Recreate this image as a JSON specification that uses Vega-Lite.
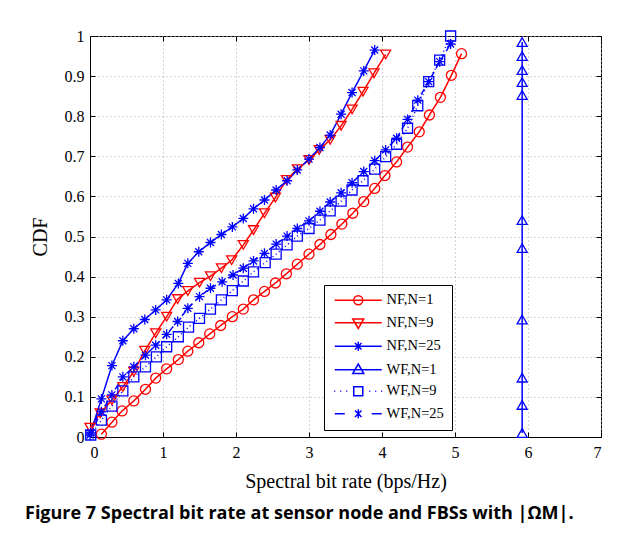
{
  "$schema": "https://vega.github.io/schema/vega-lite/v6.json",
  "width": 511,
  "height": 401,
  "autosize": {"type": "none"},
  "padding": {"left": 90, "top": 36, "right": 25, "bottom": 102},
  "background": "white",
  "config": {
    "view": {"stroke": "black", "strokeWidth": 1},
    "axis": {
      "labelFont": "Liberation Serif", "labelFontSize": 16, "labelColor": "black",
      "titleFont": "Liberation Serif", "titleFontSize": 20, "titleFontWeight": "normal", "titleColor": "black",
      "domainColor": "black", "tickColor": "black", "tickSize": -5,
      "gridColor": "#a8a8a8", "gridDash": [1, 3], "gridOpacity": 1, "gridWidth": 1
    }
  },
  "title": {
    "text": "Figure 7 Spectral bit rate at sensor node and FBSs with |ΩM|.",
    "orient": "bottom", "anchor": "start", "frame": "group",
    "font": "Open Sans", "fontSize": 18, "fontWeight": "bold", "color": "black",
    "dx": -65, "offset": 14
  },
  "datasets": {
    "cdf": [
      {"s": "NF,N=1", "x": 0.156, "y": 0.007}, {"s": "NF,N=1", "x": 0.30, "y": 0.037}, {"s": "NF,N=1", "x": 0.44, "y": 0.065}, {"s": "NF,N=1", "x": 0.60, "y": 0.09}, {"s": "NF,N=1", "x": 0.76, "y": 0.119}, {"s": "NF,N=1", "x": 0.90, "y": 0.147}, {"s": "NF,N=1", "x": 1.05, "y": 0.17}, {"s": "NF,N=1", "x": 1.21, "y": 0.193}, {"s": "NF,N=1", "x": 1.34, "y": 0.214}, {"s": "NF,N=1", "x": 1.49, "y": 0.235}, {"s": "NF,N=1", "x": 1.64, "y": 0.257}, {"s": "NF,N=1", "x": 1.79, "y": 0.278}, {"s": "NF,N=1", "x": 1.95, "y": 0.30}, {"s": "NF,N=1", "x": 2.10, "y": 0.319}, {"s": "NF,N=1", "x": 2.24, "y": 0.342}, {"s": "NF,N=1", "x": 2.39, "y": 0.363}, {"s": "NF,N=1", "x": 2.54, "y": 0.384}, {"s": "NF,N=1", "x": 2.69, "y": 0.407}, {"s": "NF,N=1", "x": 2.84, "y": 0.431}, {"s": "NF,N=1", "x": 3.0, "y": 0.456}, {"s": "NF,N=1", "x": 3.15, "y": 0.48}, {"s": "NF,N=1", "x": 3.30, "y": 0.505}, {"s": "NF,N=1", "x": 3.45, "y": 0.531}, {"s": "NF,N=1", "x": 3.60, "y": 0.558}, {"s": "NF,N=1", "x": 3.75, "y": 0.587}, {"s": "NF,N=1", "x": 3.90, "y": 0.62}, {"s": "NF,N=1", "x": 4.04, "y": 0.652}, {"s": "NF,N=1", "x": 4.20, "y": 0.686}, {"s": "NF,N=1", "x": 4.35, "y": 0.723}, {"s": "NF,N=1", "x": 4.51, "y": 0.761}, {"s": "NF,N=1", "x": 4.65, "y": 0.803}, {"s": "NF,N=1", "x": 4.80, "y": 0.847}, {"s": "NF,N=1", "x": 4.95, "y": 0.902}, {"s": "NF,N=1", "x": 5.09, "y": 0.956},
      {"s": "NF,N=9", "x": 0.0, "y": 0.023}, {"s": "NF,N=9", "x": 0.14, "y": 0.059}, {"s": "NF,N=9", "x": 0.30, "y": 0.092}, {"s": "NF,N=9", "x": 0.45, "y": 0.125}, {"s": "NF,N=9", "x": 0.60, "y": 0.163}, {"s": "NF,N=9", "x": 0.75, "y": 0.215}, {"s": "NF,N=9", "x": 0.90, "y": 0.259}, {"s": "NF,N=9", "x": 1.05, "y": 0.30}, {"s": "NF,N=9", "x": 1.20, "y": 0.344}, {"s": "NF,N=9", "x": 1.34, "y": 0.364}, {"s": "NF,N=9", "x": 1.50, "y": 0.385}, {"s": "NF,N=9", "x": 1.65, "y": 0.401}, {"s": "NF,N=9", "x": 1.80, "y": 0.421}, {"s": "NF,N=9", "x": 1.94, "y": 0.441}, {"s": "NF,N=9", "x": 2.10, "y": 0.479}, {"s": "NF,N=9", "x": 2.24, "y": 0.516}, {"s": "NF,N=9", "x": 2.39, "y": 0.558}, {"s": "NF,N=9", "x": 2.54, "y": 0.597}, {"s": "NF,N=9", "x": 2.69, "y": 0.641}, {"s": "NF,N=9", "x": 2.84, "y": 0.668}, {"s": "NF,N=9", "x": 3.0, "y": 0.691}, {"s": "NF,N=9", "x": 3.14, "y": 0.716}, {"s": "NF,N=9", "x": 3.29, "y": 0.741}, {"s": "NF,N=9", "x": 3.44, "y": 0.776}, {"s": "NF,N=9", "x": 3.59, "y": 0.817}, {"s": "NF,N=9", "x": 3.74, "y": 0.861}, {"s": "NF,N=9", "x": 3.89, "y": 0.907}, {"s": "NF,N=9", "x": 4.05, "y": 0.954},
      {"s": "NF,N=25", "x": 0.0, "y": 0.005}, {"s": "NF,N=25", "x": 0.156, "y": 0.095}, {"s": "NF,N=25", "x": 0.30, "y": 0.178}, {"s": "NF,N=25", "x": 0.45, "y": 0.24}, {"s": "NF,N=25", "x": 0.60, "y": 0.27}, {"s": "NF,N=25", "x": 0.75, "y": 0.293}, {"s": "NF,N=25", "x": 0.90, "y": 0.317}, {"s": "NF,N=25", "x": 1.05, "y": 0.342}, {"s": "NF,N=25", "x": 1.21, "y": 0.383}, {"s": "NF,N=25", "x": 1.34, "y": 0.433}, {"s": "NF,N=25", "x": 1.49, "y": 0.462}, {"s": "NF,N=25", "x": 1.65, "y": 0.485}, {"s": "NF,N=25", "x": 1.80, "y": 0.505}, {"s": "NF,N=25", "x": 1.95, "y": 0.524}, {"s": "NF,N=25", "x": 2.10, "y": 0.545}, {"s": "NF,N=25", "x": 2.24, "y": 0.569}, {"s": "NF,N=25", "x": 2.39, "y": 0.591}, {"s": "NF,N=25", "x": 2.55, "y": 0.616}, {"s": "NF,N=25", "x": 2.70, "y": 0.639}, {"s": "NF,N=25", "x": 2.84, "y": 0.666}, {"s": "NF,N=25", "x": 3.0, "y": 0.693}, {"s": "NF,N=25", "x": 3.15, "y": 0.722}, {"s": "NF,N=25", "x": 3.29, "y": 0.753}, {"s": "NF,N=25", "x": 3.44, "y": 0.805}, {"s": "NF,N=25", "x": 3.59, "y": 0.859}, {"s": "NF,N=25", "x": 3.75, "y": 0.913}, {"s": "NF,N=25", "x": 3.90, "y": 0.965},
      {"s": "WF,N=1", "x": 5.92, "y": 0.01}, {"s": "WF,N=1", "x": 5.92, "y": 0.08}, {"s": "WF,N=1", "x": 5.92, "y": 0.148}, {"s": "WF,N=1", "x": 5.92, "y": 0.293}, {"s": "WF,N=1", "x": 5.92, "y": 0.471}, {"s": "WF,N=1", "x": 5.92, "y": 0.541}, {"s": "WF,N=1", "x": 5.92, "y": 0.853}, {"s": "WF,N=1", "x": 5.92, "y": 0.885}, {"s": "WF,N=1", "x": 5.92, "y": 0.915}, {"s": "WF,N=1", "x": 5.92, "y": 0.95}, {"s": "WF,N=1", "x": 5.92, "y": 0.985},
      {"s": "WF,N=9", "x": 0.01, "y": 0.005}, {"s": "WF,N=9", "x": 0.156, "y": 0.042}, {"s": "WF,N=9", "x": 0.30, "y": 0.077}, {"s": "WF,N=9", "x": 0.45, "y": 0.115}, {"s": "WF,N=9", "x": 0.60, "y": 0.15}, {"s": "WF,N=9", "x": 0.76, "y": 0.175}, {"s": "WF,N=9", "x": 0.91, "y": 0.20}, {"s": "WF,N=9", "x": 1.05, "y": 0.225}, {"s": "WF,N=9", "x": 1.21, "y": 0.25}, {"s": "WF,N=9", "x": 1.35, "y": 0.274}, {"s": "WF,N=9", "x": 1.50, "y": 0.296}, {"s": "WF,N=9", "x": 1.65, "y": 0.319}, {"s": "WF,N=9", "x": 1.80, "y": 0.342}, {"s": "WF,N=9", "x": 1.95, "y": 0.365}, {"s": "WF,N=9", "x": 2.10, "y": 0.389}, {"s": "WF,N=9", "x": 2.24, "y": 0.412}, {"s": "WF,N=9", "x": 2.40, "y": 0.435}, {"s": "WF,N=9", "x": 2.55, "y": 0.456}, {"s": "WF,N=9", "x": 2.70, "y": 0.479}, {"s": "WF,N=9", "x": 2.84, "y": 0.501}, {"s": "WF,N=9", "x": 3.0, "y": 0.52}, {"s": "WF,N=9", "x": 3.15, "y": 0.541}, {"s": "WF,N=9", "x": 3.29, "y": 0.564}, {"s": "WF,N=9", "x": 3.44, "y": 0.588}, {"s": "WF,N=9", "x": 3.59, "y": 0.616}, {"s": "WF,N=9", "x": 3.74, "y": 0.639}, {"s": "WF,N=9", "x": 3.90, "y": 0.668}, {"s": "WF,N=9", "x": 4.05, "y": 0.699}, {"s": "WF,N=9", "x": 4.20, "y": 0.73}, {"s": "WF,N=9", "x": 4.35, "y": 0.77}, {"s": "WF,N=9", "x": 4.49, "y": 0.826}, {"s": "WF,N=9", "x": 4.64, "y": 0.886}, {"s": "WF,N=9", "x": 4.79, "y": 0.94}, {"s": "WF,N=9", "x": 4.94, "y": 1.0},
      {"s": "WF,N=25", "x": 0.01, "y": 0.01}, {"s": "WF,N=25", "x": 0.156, "y": 0.063}, {"s": "WF,N=25", "x": 0.30, "y": 0.105}, {"s": "WF,N=25", "x": 0.45, "y": 0.15}, {"s": "WF,N=25", "x": 0.60, "y": 0.175}, {"s": "WF,N=25", "x": 0.76, "y": 0.204}, {"s": "WF,N=25", "x": 0.90, "y": 0.229}, {"s": "WF,N=25", "x": 1.05, "y": 0.256}, {"s": "WF,N=25", "x": 1.20, "y": 0.288}, {"s": "WF,N=25", "x": 1.34, "y": 0.321}, {"s": "WF,N=25", "x": 1.50, "y": 0.35}, {"s": "WF,N=25", "x": 1.65, "y": 0.371}, {"s": "WF,N=25", "x": 1.81, "y": 0.387}, {"s": "WF,N=25", "x": 1.96, "y": 0.404}, {"s": "WF,N=25", "x": 2.10, "y": 0.421}, {"s": "WF,N=25", "x": 2.24, "y": 0.439}, {"s": "WF,N=25", "x": 2.39, "y": 0.458}, {"s": "WF,N=25", "x": 2.55, "y": 0.481}, {"s": "WF,N=25", "x": 2.70, "y": 0.501}, {"s": "WF,N=25", "x": 2.84, "y": 0.52}, {"s": "WF,N=25", "x": 3.0, "y": 0.539}, {"s": "WF,N=25", "x": 3.15, "y": 0.563}, {"s": "WF,N=25", "x": 3.29, "y": 0.586}, {"s": "WF,N=25", "x": 3.44, "y": 0.609}, {"s": "WF,N=25", "x": 3.59, "y": 0.634}, {"s": "WF,N=25", "x": 3.75, "y": 0.662}, {"s": "WF,N=25", "x": 3.90, "y": 0.689}, {"s": "WF,N=25", "x": 4.05, "y": 0.716}, {"s": "WF,N=25", "x": 4.20, "y": 0.745}, {"s": "WF,N=25", "x": 4.35, "y": 0.792}, {"s": "WF,N=25", "x": 4.49, "y": 0.84}, {"s": "WF,N=25", "x": 4.64, "y": 0.886}, {"s": "WF,N=25", "x": 4.79, "y": 0.936}, {"s": "WF,N=25", "x": 4.94, "y": 0.98}
    ]
  },
  "data": {"name": "cdf"},
  "layer": [
    {
      "mark": {"type": "line", "strokeWidth": 1.5},
      "encoding": {
        "x": {"field": "x", "type": "quantitative", "scale": {"domain": [0, 7], "nice": false},
          "axis": {"title": "Spectral bit rate (bps/Hz)", "values": [0, 1, 2, 3, 4, 5, 6, 7], "grid": true, "labelPadding": 12, "titlePadding": 11}},
        "y": {"field": "y", "type": "quantitative", "scale": {"domain": [0, 1], "nice": false},
          "axis": {"title": "CDF", "values": [0, 0.1, 0.2, 0.3, 0.4, 0.5, 0.6, 0.7, 0.8, 0.9, 1], "format": "~g", "grid": true, "labelPadding": 11, "titlePadding": 14}},
        "color": {"field": "s", "type": "nominal", "legend": null,
          "scale": {"domain": ["NF,N=1", "NF,N=9", "NF,N=25", "WF,N=1", "WF,N=9", "WF,N=25"], "range": ["#ff0000", "#ff0000", "#0000ff", "#0000ff", "#0000ff", "#0000ff"]}},
        "strokeDash": {"field": "s", "type": "nominal", "legend": null,
          "scale": {"domain": ["NF,N=1", "NF,N=9", "NF,N=25", "WF,N=1", "WF,N=9", "WF,N=25"], "range": [[1, 0], [1, 0], [1, 0], [1, 0], [1, 3], [6, 4]]}},
        "order": {"field": "y", "type": "quantitative"}
      }
    },
    {
      "mark": {"type": "point", "filled": false, "strokeWidth": 1.3, "size": 100, "opacity": 1},
      "encoding": {
        "x": {"field": "x", "type": "quantitative", "scale": {"domain": [0, 7], "nice": false}, "axis": null},
        "y": {"field": "y", "type": "quantitative", "scale": {"domain": [0, 1], "nice": false}, "axis": null},
        "color": {"field": "s", "type": "nominal", "legend": null,
          "scale": {"domain": ["NF,N=1", "NF,N=9", "NF,N=25", "WF,N=1", "WF,N=9", "WF,N=25"], "range": ["#ff0000", "#ff0000", "#0000ff", "#0000ff", "#0000ff", "#0000ff"]}},
        "shape": {"field": "s", "type": "nominal", "legend": null,
          "scale": {"domain": ["NF,N=1", "NF,N=9", "NF,N=25", "WF,N=1", "WF,N=9", "WF,N=25"],
            "range": ["circle", "triangle-down", "M0,-1L0,1M-1,0L1,0M-0.7,-0.7L0.7,0.7M-0.7,0.7L0.7,-0.7", "triangle-up", "square", "M0,-1L0,1M-1,0L1,0M-0.7,-0.7L0.7,0.7M-0.7,0.7L0.7,-0.7"]}}
      }
    },
    {
      "transform": [{"filter": "datum.x < -1"}],
      "mark": {"type": "point", "filled": false},
      "encoding": {
        "x": {"field": "x", "type": "quantitative", "scale": {"domain": [0, 7], "nice": false}, "axis": null},
        "y": {"field": "y", "type": "quantitative", "scale": {"domain": [0, 1], "nice": false}, "axis": null},
        "color": {"field": "s", "type": "nominal",
          "scale": {"domain": ["NF,N=1", "NF,N=9", "NF,N=25", "WF,N=1", "WF,N=9", "WF,N=25"], "range": ["#ff0000", "#ff0000", "#0000ff", "#0000ff", "#0000ff", "#0000ff"]},
          "legend": {"title": null, "orient": "none", "legendX": 234, "legendY": 249, "symbolSize": 100, "symbolStrokeWidth": 1.5, "symbolOpacity": 1, "symbolFillColor": "transparent",
            "labelFont": "Liberation Serif", "labelFontSize": 14.5, "labelColor": "black", "strokeColor": "black", "fillColor": "white", "padding": 8, "rowPadding": 6.5, "symbolOffset": 19, "labelOffset": 21}},
        "shape": {"field": "s", "type": "nominal",
          "scale": {"domain": ["NF,N=1", "NF,N=9", "NF,N=25", "WF,N=1", "WF,N=9", "WF,N=25"],
            "range": [
              "M-4.7,0L4.7,0M-0.9,0A0.9,0.9,0,1,1,0.9,0A0.9,0.9,0,1,1,-0.9,0Z",
              "M-4.7,0L4.7,0M-1.1,-0.75L1.1,-0.75L0,1.15Z",
              "M-4.7,0L4.7,0M0,-0.9L0,0.9M-0.65,-0.65L0.65,0.65M-0.65,0.65L0.65,-0.65",
              "M-4.7,0L4.7,0M-1.1,0.75L1.1,0.75L0,-1.15Z",
              "M-4.8,0L-4.6,0M-3.6,0L-3.4,0M-2.4,0L-2.2,0M2.2,0L2.4,0M3.4,0L3.6,0M4.6,0L4.8,0M-0.9,-0.9L0.9,-0.9L0.9,0.9L-0.9,0.9Z",
              "M-4.7,0L-2.7,0M2.7,0L4.7,0M0,-0.9L0,0.9M-0.65,-0.65L0.65,0.65M-0.65,0.65L0.65,-0.65"
            ]},
          "legend": {"title": null, "orient": "none", "legendX": 234, "legendY": 249, "symbolSize": 100, "symbolStrokeWidth": 1.5, "symbolOpacity": 1, "symbolFillColor": "transparent",
            "labelFont": "Liberation Serif", "labelFontSize": 14.5, "labelColor": "black", "strokeColor": "black", "fillColor": "white", "padding": 8, "rowPadding": 6.5, "symbolOffset": 19, "labelOffset": 21}}
      }
    },
    {
      "transform": [{"filter": "datum.x < -1"}],
      "mark": {"type": "point"},
      "encoding": {
        "x": {"field": "x", "type": "quantitative", "scale": {"domain": [0, 7], "nice": false},
          "axis": {"orient": "top", "labels": false, "title": null, "grid": false, "domain": false, "values": [0, 1, 2, 3, 4, 5, 6, 7]}},
        "y": {"field": "y", "type": "quantitative", "scale": {"domain": [0, 1], "nice": false},
          "axis": {"orient": "right", "labels": false, "title": null, "grid": false, "domain": false, "values": [0, 0.1, 0.2, 0.3, 0.4, 0.5, 0.6, 0.7, 0.8, 0.9, 1]}}
      }
    }
  ],
  "resolve": {
    "scale": {"color": "independent", "shape": "independent", "strokeDash": "independent"},
    "axis": {"x": "independent", "y": "independent"}
  }
}
